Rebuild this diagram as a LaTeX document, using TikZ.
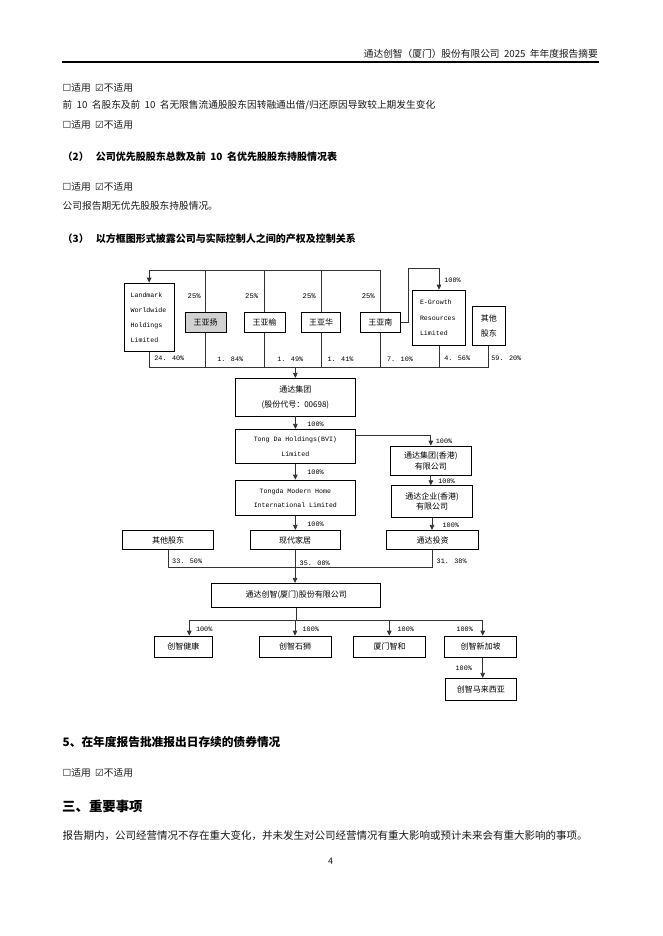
\documentclass[tikz,border=0pt]{standalone}
\usepackage{fontspec}
\usetikzlibrary{arrows.meta,calc}
\newfontfamily\cjk[WordSpace=2.0]{Noto Sans CJK SC}
\newfontfamily\mono{Liberation Mono}
\newfontfamily\symf{DejaVu Sans}
\newcommand\unchk{{\symf ☐}}
\newcommand\chk{{\symf ☑}}
\newcommand\naopt{\unchk 适用\hspace{0.45em}\chk 不适用}
\newcommand\mkbox[7][]{%
  \node[bx,#1,minimum width={(#5-#3)*1pt},minimum height={(#6-#4)*1pt}] (#2) at ({(#3+#5)/2},{(#4+#6)/2}) {#7};}
\begin{document}
\begin{tikzpicture}[x=1pt,y=-1pt,
  bx/.style={draw=black, line width=0.75pt, inner sep=0pt, align=center, text=black,
    font=\cjk\fontsize{8}{11}\selectfont},
  lat/.style={font=\mono\fontsize{6.6}{15}\selectfont},
  ln/.style={draw=black!80, line width=0.75pt},
  arr/.style={ln, -{Triangle[length=5pt,width=4.6pt]}},
  pct/.style={font=\mono\fontsize{6.8}{8}\selectfont, inner sep=0pt, text=black},
  txt/.style={anchor=west, inner sep=0pt, font=\cjk\fontsize{9.7}{12}\selectfont, text=black!90},
  hd/.style={anchor=west, inner sep=0pt, font=\cjk\bfseries\fontsize{10}{12}\selectfont, text=black}]
\path[fill=white] (0,0) rectangle (662,936);
\useasboundingbox (0,0) rectangle (662,936);

% ---------- page text ----------
\node[txt,anchor=east] (hdr) at (598,54) {通达创智（厦门）股份有限公司 2025 年年度报告摘要};
\coordinate (hl) at (62,62);
\coordinate (hr) at (599,62);
\draw[line width=1.1pt] (hl) -- (hr);

\node[txt] (t1) at (62.5,87.5) {\naopt};
\node[txt] (t2) at (62.5,105.7) {前 10 名股东及前 10 名无限售流通股股东因转融通出借/归还原因导致较上期发生变化};
\node[txt] (t3) at (62.5,124.5) {\naopt};
\node[hd] (h2) at (62.5,156.7) {（2）\hspace{0.7em}公司优先股股东总数及前 10 名优先股股东持股情况表};
\node[txt] (t4) at (62.5,186.7) {\naopt};
\node[txt] (t5) at (62.5,205.7) {公司报告期无优先股股东持股情况。};
\node[hd] (h3) at (62.5,238.3) {（3）\hspace{0.7em}以方框图形式披露公司与实际控制人之间的产权及控制关系};

\node[hd,font=\cjk\bfseries\fontsize{11.7}{14}\selectfont] (h5) at (62.5,742.3) {5、在年度报告批准报出日存续的债券情况};
\node[txt] (t6) at (62.5,773.3) {\naopt};
\node[hd,font=\cjk\bfseries\fontsize{13.4}{16}\selectfont] (h6) at (62,806) {三、重要事项};
\node[txt,font=\cjk\fontsize{10.5}{12}\selectfont] (t7) at (62.5,835.5) {报告期内，公司经营情况不存在重大变化，并未发生对公司经营情况有重大影响或预计未来会有重大影响的事项。};
\node[txt,anchor=center,font=\cjk\fontsize{9}{11}\selectfont] (pg) at (330.5,861) {4};

% ---------- top row ----------
\mkbox[lat,align=left,text width=37pt]{lm}{124}{283}{174.3}{351.7}{Landmark\\Worldwide\\Holdings\\Limited}
\mkbox[fill=black!18]{wyy}{185.3}{312.7}{226}{332.7}{王亚扬}
\mkbox{wyu}{244.3}{312.7}{285}{332.7}{王亚榆}
\mkbox{wyh}{301.7}{312.7}{340.7}{332.7}{王亚华}
\mkbox{wyn}{360}{312.7}{400.7}{332.7}{王亚南}
\mkbox[lat,align=left,text width=38pt,font=\mono\fontsize{6.6}{15.3}\selectfont]{eg}{412.3}{290}{465.7}{345.7}{E-Growth\\Resources\\Limited}
\mkbox[font=\cjk\fontsize{8}{15.7}\selectfont]{qt1}{472.3}{306}{505.3}{345.7}{其他\\股东}

\coordinate (ttop) at (0,270);
\draw[arr] (wyn.north) -- (wyn.north |- ttop) -| (lm.north);
\draw[ln] (wyy.north) -- (wyy.north |- ttop);
\draw[ln] (wyu.north) -- (wyu.north |- ttop);
\draw[ln] (wyh.north) -- (wyh.north |- ttop);

\coordinate (egk) at (408.3,268.3);
\draw[arr] (wyn.east) -| (egk) -| (eg.north);

\coordinate (bbar) at (0,367.3);
\draw[ln] (lm.south) |- (qt1.south |- bbar) -- (qt1.south);
\foreach \n in {wyy,wyu,wyh,wyn,eg} \draw[ln] (\n.south) -- (\n.south |- bbar);

\node[pct,font=\mono\fontsize{7.2}{8}\selectfont] (p25a) at (194.2,296) {25\%};
\node[pct,font=\mono\fontsize{7.2}{8}\selectfont] (p25b) at (251.7,296) {25\%};
\node[pct,font=\mono\fontsize{7.2}{8}\selectfont] (p25c) at (309.2,296) {25\%};
\node[pct,font=\mono\fontsize{7.2}{8}\selectfont] (p25d) at (368.3,296) {25\%};
\node[pct] (peg) at (452.5,280.7) {100\%};
\node[pct] (pa) at (169.3,358.7) {24. 40\%};
\node[pct] (pb) at (230.3,359.5) {1. 84\%};
\node[pct] (pc) at (290.3,359.5) {1. 49\%};
\node[pct] (pd) at (340.5,359.3) {1. 41\%};
\node[pct] (pe) at (400,359.3) {7. 10\%};
\node[pct] (pf) at (457.2,358.7) {4. 56\%};
\node[pct] (pg2) at (506.3,358.7) {59. 20\%};

% ---------- middle ----------
\mkbox[font=\cjk\fontsize{8}{15}\selectfont]{tdg}{235}{378.3}{355.7}{416}{通达集团\\(股份代号：00698)}
\draw[arr] (tdg.north |- bbar) -- (tdg.north);
\mkbox[lat]{bvi}{235}{429.3}{355.7}{463.3}{Tong Da Holdings(BVI)\\Limited}
\mkbox[lat,font=\mono\fontsize{6.6}{14.4}\selectfont]{tmh}{235}{480}{355.7}{515.7}{Tongda Modern Home\\International Limited}
\mkbox{hk1}{390.7}{446}{471}{475.3}{通达集团(香港)\\有限公司}
\mkbox[font=\cjk\fontsize{8}{10}\selectfont]{hk2}{391.7}{485.7}{472.3}{517.3}{通达企业(香港)\\有限公司}
\mkbox{qt2}{122.7}{530.3}{213.3}{549.8}{其他股东}
\mkbox{xd}{250}{530.3}{340}{549.8}{现代家居}
\mkbox{tdi}{386.7}{530.3}{478.3}{549.8}{通达投资}
\mkbox{tcz}{211.7}{583.3}{380.7}{607.3}{通达创智(厦门)股份有限公司}

\draw[arr] (tdg.south) -- (bvi.north);
\draw[arr] (bvi.south) -- (tmh.north);
\draw[arr] (tmh.south) -- (tmh.south |- xd.north);
\draw[arr] ($(bvi.north east)+(0,6.7)$) -| (hk1.north);
\draw[arr] (hk1.south) -- (hk1.south |- hk2.north);
\draw[arr] (hk2.south) -- (hk2.south |- tdi.north);

\coordinate (cbar) at (0,567.5);
\draw[ln] (qt2.south) |- (tdi.south |- cbar) -- (tdi.south);
\draw[arr] (xd.south) -- (xd.south |- tcz.north);

\node[pct] (m1) at (315.5,424) {100\%};
\node[pct] (m2) at (315.5,472) {100\%};
\node[pct] (m3) at (444,441) {100\%};
\node[pct] (m4) at (446.5,481.7) {100\%};
\node[pct] (m5) at (315.5,524) {100\%};
\node[pct] (m6) at (450.8,525) {100\%};
\node[pct,anchor=west] (m7) at (172,561.7) {33. 50\%};
\node[pct] (m8) at (314.7,563.3) {35. 00\%};
\node[pct,anchor=west] (m9) at (436.5,561.7) {31. 38\%};

% ---------- bottom ----------
\mkbox{cj1}{154.3}{636}{212.3}{657.3}{创智健康}
\mkbox{cj2}{259.3}{636}{331}{657.3}{创智石狮}
\mkbox{cj3}{353.3}{636}{425.7}{657.3}{厦门智和}
\mkbox{cj4}{444.3}{636}{516.7}{657.3}{创智新加坡}
\mkbox{cj5}{445}{678.3}{516.7}{700.7}{创智马来西亚}

\coordinate (d1) at (189.3,620);
\coordinate (d2) at (295,620);
\coordinate (d3) at (389.3,620);
\coordinate (d4) at (482.7,620);
\draw[ln] (tcz.south) -- (tcz.south |- d2);
\draw[ln] (d1) -- (d4);
\draw[arr] (d1) -- (d1 |- cj1.north);
\draw[arr] (d2) -- (d2 |- cj2.north);
\draw[arr] (d3) -- (d3 |- cj3.north);
\draw[arr] (d4) -- (d4 |- cj4.north);
\draw[arr] (d4 |- cj4.south) -- (d4 |- cj5.north);

\node[pct] (b1) at (204.2,629.3) {100\%};
\node[pct] (b2) at (310.8,629.3) {100\%};
\node[pct] (b3) at (405.8,629.3) {100\%};
\node[pct] (b4) at (464.7,629.3) {100\%};
\node[pct] (b5) at (463.8,668.3) {100\%};
\end{tikzpicture}
\end{document}
